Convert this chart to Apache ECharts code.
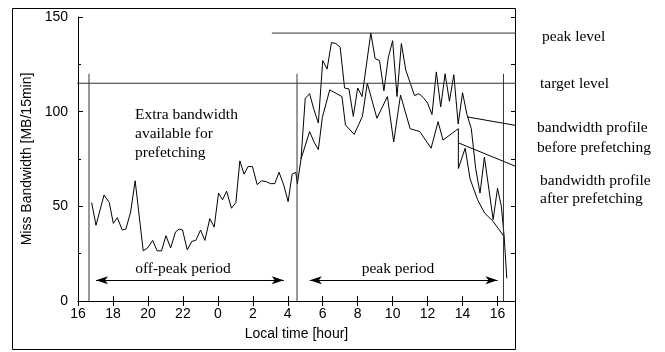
<!DOCTYPE html>
<html>
<head>
<meta charset="utf-8">
<script src="https://cdn.jsdelivr.net/npm/echarts@6/dist/echarts.min.js"></script>
<style>
  html, body { margin: 0; padding: 0; background: #fff; }
  #chart { width: 665px; height: 352px; }
</style>
</head>
<body>
<div id="chart"></div>
<script>
// Local time in hours, counted on from 16:00 of the first day (values above 24 fall on the next day)
const beforeHours = [
  16.78, 17.03, 17.49, 17.79, 18.02, 18.25, 18.53, 18.74, 19.01, 19.27,
  19.73, 19.98, 20.27, 20.53, 20.78, 21.03, 21.30, 21.58, 21.79, 21.98,
  22.25, 22.51, 22.74, 23.01, 23.26, 23.54, 23.79, 24.04, 24.27, 24.50,
  24.78, 25.03, 25.26, 25.50, 25.73, 25.98, 26.25, 26.51, 26.78, 27.01,
  27.26, 27.50, 27.77, 28.02, 28.25, 28.46, 28.55, 28.76,
  29.00, 29.25, 29.50, 29.75, 30.00, 30.25, 30.50, 30.75, 31.00, 31.25,
  31.50, 31.75, 32.00, 32.25, 32.75, 33.00, 33.25, 33.50, 33.75, 34.00,
  34.25, 34.50, 34.75, 35.25, 35.50, 35.75, 36.00, 36.25, 36.50, 36.75,
  37.00, 37.25, 37.50, 37.75, 38.00, 38.25, 38.50, 38.75, 39.00, 39.25,
  39.75, 40.00, 40.22, 40.38, 40.53
];
// Miss bandwidth without prefetching [MB/15min]
const beforeValues = [
  52, 40, 56, 52, 41, 44, 37.5, 38, 47, 63.5,
  26.5, 28, 32, 26.5, 26.5, 34.5, 28, 36.5, 38, 37.5,
  27, 31.5, 32, 37.5, 32, 43.5, 39, 57, 53.5, 58,
  49, 52, 74, 67, 71, 71, 61.5, 63.5, 63, 62,
  62, 68, 61.3, 52.5, 67, 68, 62, 75,
  107, 109.5, 101, 94, 127, 122.5, 136.5, 136, 134, 112.5,
  112, 97.5, 112.5, 108, 141.5, 128, 127, 111, 128.5, 137.5,
  108, 136, 122, 108.5, 109.5, 107.5, 104.5, 98.5, 121, 102.5,
  120, 105.5, 119.5, 93.5, 110, 98.5, 91, 70, 57, 76,
  43, 59.5, 50, 34, 12
];
// Profile once prefetching has moved traffic out of the peak period
const afterHours = [
  28.76, 29.25, 29.50, 29.75, 29.98, 30.40, 31.10, 31.30, 31.80, 32.27,
  32.55, 33.10, 33.70, 34.06, 34.45, 35.00, 35.55, 36.20, 36.60, 36.88,
  37.76, 37.76, 38.15, 38.43, 38.86, 39.26, 39.75, 40.38
];
const afterValues = [
  75, 89.5, 84, 80, 97, 111.5, 108, 93, 88, 97.5,
  115, 96.5, 108, 84, 108.8, 91, 89.5, 80.7, 94.7, 85,
  91, 70, 80.7, 64.5, 53.5, 46.5, 42, 34
];

const peakLevel = 141.5;
const targetLevel = 115;
const periodBounds = [16.63, 28.53, 40.34];
const periodBoundTop = 120;
const offPeakSpan = [17.03, 27.77];
const peakSpan = [29.26, 40.0];
const arrowLevel = 11;

const serif = '"Liberation Serif", "DejaVu Serif", serif';
const sans = '"Liberation Sans", Arial, sans-serif';

const pairs = (xs, ys) => xs.map((x, i) => [x, ys[i]]);

const chart = echarts.init(document.getElementById('chart'), null, { renderer: 'canvas' });

const plainLine = (data, color, width) => ({
  type: 'line',
  data,
  showSymbol: false,
  symbol: 'none',
  clip: false,
  silent: true,
  animation: false,
  lineStyle: { color, width },
  z: 3
});

const series = [
  plainLine(pairs(beforeHours, beforeValues), '#000', 1),
  plainLine(pairs(afterHours, afterValues), '#000', 1),
  plainLine([[27.09, peakLevel], [41.83, peakLevel]], '#333', 1),
  plainLine([[15.95, targetLevel], [41.83, targetLevel]], '#333', 1),
  // leader lines from the two profiles to their labels
  plainLine([[38.29, 97.2], [42.11, 91]], '#000', 1),
  plainLine([[37.77, 83.5], [42.23, 66.6]], '#000', 1)
];
periodBounds.forEach(h => {
  series.push(plainLine([[h, 0], [h, periodBoundTop]], '#333', 1));
});
// double-headed arrows marking the off-peak and peak periods
series.push({
  type: 'line',
  data: [],
  silent: true,
  animation: false,
  markLine: {
    silent: true,
    animation: false,
    symbol: ['arrow', 'arrow'],
    symbolSize: [6, 12],
    label: { show: false },
    lineStyle: { color: '#000', width: 1, type: 'solid' },
    data: [
      [{ coord: [offPeakSpan[0], arrowLevel] }, { coord: [offPeakSpan[1], arrowLevel] }],
      [{ coord: [peakSpan[0], arrowLevel] }, { coord: [peakSpan[1], arrowLevel] }]
    ]
  }
});

const axisLine = { show: true, lineStyle: { color: '#000', width: 1 } };

chart.setOption({
  animation: false,
  backgroundColor: '#fff',
  grid: { left: 78, right: 150, top: 17, bottom: 51, containLabel: false },
  xAxis: [
    {
      type: 'value', position: 'bottom', min: 16, max: 41, interval: 2,
      axisLine, splitLine: { show: false },
      axisTick: { inside: true, length: 5, lineStyle: { color: '#000' } },
      axisLabel: {
        margin: 6, color: '#000', fontFamily: sans, fontSize: 14,
        showMaxLabel: false,
        formatter: v => (v > 40 ? '' : String(v % 24))
      },
      name: 'Local time [hour]', nameLocation: 'middle', nameGap: 26,
      nameTextStyle: { color: '#000', fontFamily: sans, fontSize: 14 }
    },
    {
      type: 'value', position: 'top', min: 16, max: 41, interval: 2,
      axisLine, splitLine: { show: false },
      axisTick: { inside: true, length: 5, lineStyle: { color: '#000' } },
      axisLabel: { show: false }
    }
  ],
  yAxis: [
    {
      type: 'value', position: 'left', min: 0, max: 150, interval: 50,
      axisLine, splitLine: { show: false },
      axisTick: { inside: true, length: 5, lineStyle: { color: '#000' } },
      minorTick: { show: true, splitNumber: 2, length: 3, lineStyle: { color: '#000' } },
      axisLabel: { margin: 10, color: '#000', fontFamily: sans, fontSize: 14 },
      name: 'Miss Bandwidth [MB/15min]', nameLocation: 'middle', nameGap: 44,
      nameTextStyle: { color: '#000', fontFamily: sans, fontSize: 14 }
    },
    {
      type: 'value', position: 'right', min: 0, max: 150, interval: 25,
      axisLine, splitLine: { show: false },
      axisTick: { inside: true, length: 4, lineStyle: { color: '#000' } },
      axisLabel: { show: false }
    }
  ],
  series,
  graphic: [
    {
      type: 'rect', silent: true, z: 0,
      shape: { x: 12.5, y: 8.5, width: 503, height: 341 },
      style: { fill: 'none', stroke: '#000', lineWidth: 1 }
    },
    {
      type: 'text', left: 135, top: 105, silent: true,
      style: { text: 'Extra bandwidth\navailable for\nprefetching', font: '15.5px ' + serif, fill: '#000', lineHeight: 19 }
    },
    {
      type: 'text', x: 183, y: 269, silent: true,
      style: { text: 'off-peak period', font: '15.5px ' + serif, fill: '#000', align: 'center', verticalAlign: 'middle' }
    },
    {
      type: 'text', x: 398, y: 269, silent: true,
      style: { text: 'peak period', font: '15.5px ' + serif, fill: '#000', align: 'center', verticalAlign: 'middle' }
    },
    {
      type: 'text', x: 542, y: 37, silent: true,
      style: { text: 'peak level', font: '15.5px ' + serif, fill: '#000', verticalAlign: 'middle' }
    },
    {
      type: 'text', x: 540, y: 84, silent: true,
      style: { text: 'target level', font: '15.5px ' + serif, fill: '#000', verticalAlign: 'middle' }
    },
    {
      type: 'text', x: 537, y: 118, silent: true,
      style: { text: 'bandwidth profile\nbefore prefetching', font: '15.5px ' + serif, fill: '#000', lineHeight: 20 }
    },
    {
      type: 'text', x: 540, y: 172, silent: true,
      style: { text: 'bandwidth profile\nafter prefetching', font: '15.5px ' + serif, fill: '#000', lineHeight: 18 }
    }
  ]
});
</script>
</body>
</html>
